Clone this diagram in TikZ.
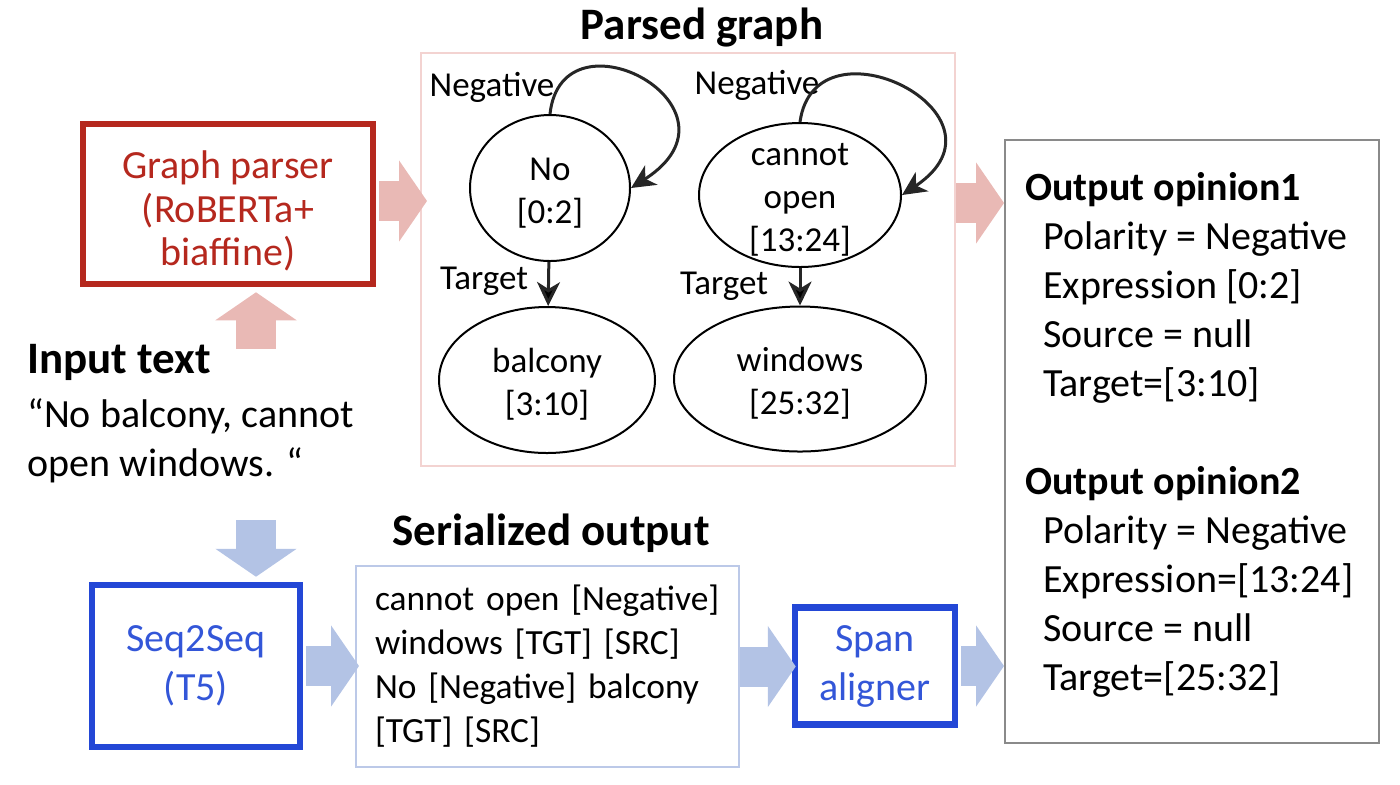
\documentclass[tikz,border=0pt]{standalone}
\usepackage{fontspec}
\setmainfont{Carlito}
\usetikzlibrary{arrows.meta,positioning,shapes.geometric,calc}
\definecolor{parserred}{HTML}{B5281E}
\definecolor{pinkarr}{HTML}{E9B9B5}
\definecolor{pinkframe}{HTML}{F3D3D1}
\definecolor{seqblue}{HTML}{2347D6}
\definecolor{seqtext}{HTML}{3356D8}
\definecolor{bluearr}{HTML}{B3C3E5}
\definecolor{serframe}{HTML}{BCC9E8}
\definecolor{outgray}{HTML}{8A8A8A}
\definecolor{edgegray}{HTML}{262626}
% raise the box top so that the lines sit a little lower
\newcommand{\topstrut}[1]{\rule{0pt}{#1}}
\tikzset{
    %Define fat block arrows
    fatarrow/.style={
           line width=20pt,
           -{Triangle[length=14pt,width=40pt]}},
    pinkarrow/.style={fatarrow, draw=pinkarr},
    bluearrow/.style={fatarrow, draw=bluearr},
    %Define style for model boxes
    parserbox/.style={
           rectangle,
           draw=parserred, line width=3.25pt,
           minimum width=145pt,
           minimum height=80pt,
           align=center,
           text=parserred,
           font=\fontsize{20}{21.75}\selectfont},
    seqbox/.style={
           rectangle,
           draw=seqblue, line width=3.25pt,
           align=center,
           text=seqtext,
           font=\fontsize{20}{24.5}\selectfont},
    %Define style for frames
    graphframe/.style={
           rectangle,
           draw=pinkframe, line width=1pt,
           minimum width=267pt,
           minimum height=206.5pt},
    serbox/.style={
           rectangle,
           draw=serframe, line width=1pt,
           minimum width=191.5pt,
           minimum height=100.5pt,
           inner sep=9.5pt,
           text width=172.5pt,
           align=left,
           font=\fontsize{17.7}{22}\selectfont},
    outbox/.style={
           rectangle,
           draw=outgray, line width=1pt,
           minimum width=187pt,
           minimum height=301.5pt},
    % Define style for graph nodes
    span node/.style={
           ellipse,
           draw=black, line width=1pt,
           inner sep=-8pt,
           align=center,
           font=\fontsize{17.5}{21.5}\selectfont},
    rel label/.style={font=\fontsize{17.5}{21}\selectfont},
    graph edge/.style={
           draw=edgegray, line width=1.5pt,
           -{Stealth[length=12pt,width=11.5pt,inset=3.5pt]}},
    title/.style={font=\fontsize{22.5}{27}\selectfont\bfseries},
    plain/.style={align=left, inner sep=0pt, font=\fontsize{20}{24.5}\selectfont}
}
\begin{document}
\begin{tikzpicture}[x=0.5pt,y=-0.5pt]
\useasboundingbox (0,0) rectangle (1400,784);
% top row
\node[parserbox] (gp) at (228,204) {\topstrut{21pt}Graph parser\\(RoBERTa+\\biaffine)};
\node[graphframe] (pg) at (688,259.5) {};
\node[title] (pgtitle) at (702,28) {Parsed graph};
\node[outbox] (out) at (1192,441.5) {};
% parsed graph
\node[span node, minimum width=80pt, minimum height=73pt] (no) at (550,188) {\topstrut{16pt}No\\{}[0:2]};
\node[span node, minimum width=101pt, minimum height=72pt] (cn) at (800,195) {\topstrut{16pt}cannot\\open\\{}[13:24]};
\node[span node, minimum width=108pt, minimum height=73pt] (bal) at (547,380) {\topstrut{16pt}balcony\\{}[3:10]};
\node[span node, minimum width=126pt, minimum height=72.5pt] (win) at (800,379) {\topstrut{16pt}windows\\{}[25:32]};
\node[rel label] (negno) at (492,87) {Negative};
\node[rel label] (negcn) at (757,85) {Negative};
\node[rel label] (tgtno) at (484,281) {Target};
\node[rel label] (tgtcn) at (724,286) {Target};
\draw[graph edge] (no.north) .. controls +(12,-110) and +(125,-80) .. (no.east);
\draw[graph edge] (cn.north) .. controls +(15,-110) and +(120,-80) .. (cn.east);
\path[graph edge]
	(no) edge (bal)
	(cn) edge (win);
% input text
\node[title, anchor=west, inner sep=0pt] (intitle) at (27,362) {Input text};
\node[plain, anchor=west] (intext) at (27,441) {“No balcony, cannot\\open windows. “};
\coordinate (upstart) at (256,349);
\coordinate (dnstart) at (256,520);
% bottom row
\node[seqbox, minimum width=104pt, minimum height=81pt] (s2s) at (196,666) {Seq2Seq\\(T5)};
\node[serbox] (ser) at (547.5,666.5) {cannot open [Negative]\\windows [TGT] [SRC]\\No [Negative] balcony\\{}[TGT] [SRC]};
\node[title] (sertitle) at (551,533) {Serialized output};
\node[seqbox, minimum width=80pt, minimum height=58.5pt] (span) at (875,666) {Span\\aligner};
% output opinions
\node[plain, anchor=west] (optext) at (1025,435) {\textbf{Output opinion1}\\
\hspace*{9pt}Polarity = Negative\\
\hspace*{9pt}Expression [0:2]\\
\hspace*{9pt}Source = null\\
\hspace*{9pt}Target=[3:10]\\[24.5pt]
\textbf{Output opinion2}\\
\hspace*{9pt}Polarity = Negative\\
\hspace*{9pt}Expression=[13:24]\\
\hspace*{9pt}Source = null\\
\hspace*{9pt}Target=[25:32]};
% block arrows
\draw[pinkarrow, shorten <=1.6pt] ($(gp.east)+(0,-3)$) -- ($(gp.east -| pg.west)+(7,-3)$);
\draw[pinkarrow] ($(pg.east)+(0,-56.5)$) -- ($(pg.east -| out.west)+(0,-56.5)$);
\draw[pinkarrow] (upstart) -- ($(gp.south -| upstart)+(0,5)$);
\draw[bluearrow] (dnstart) -- ($(s2s.north -| dnstart)+(0,-5)$);
\draw[bluearrow, shorten <=1.6pt] (s2s.east) -- ($(s2s.east -| ser.west)+(4,0)$);
\draw[bluearrow] (ser.east) -- ($(ser.east -| span.west)+(4,0)$);
\draw[bluearrow, shorten <=1.6pt] (span.east) -- (span.east -| out.west);
\end{tikzpicture}
\end{document}
